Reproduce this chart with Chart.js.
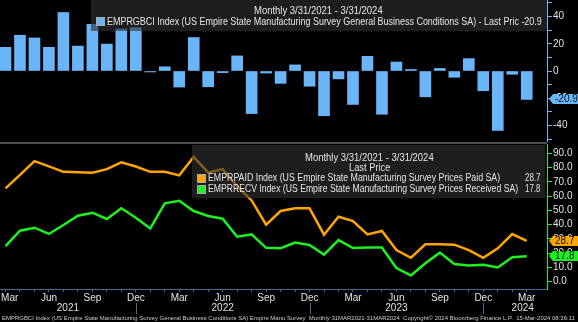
<!DOCTYPE html>
<html>
<head>
<meta charset="utf-8">
<script src="https://cdn.jsdelivr.net/npm/chart.js@4.4.1/dist/chart.umd.min.js"></script>
<style>
html,body{margin:0;padding:0;background:#000;}
#wrap{position:relative;width:578px;height:322px;overflow:hidden;background:#000;
  font-family:'Liberation Sans Narrow','Liberation Sans',Arial,sans-serif;color:#e4e4e4;}
canvas{position:absolute;left:0;}
#top{top:0;}
#bot{top:144px;}
.sep{position:absolute;left:0;top:142px;width:547px;height:2px;background:#4c4c4c;}
.box{position:absolute;background:rgba(48,48,48,0.62);}
.t{position:absolute;white-space:nowrap;font-size:10px;line-height:10px;transform-origin:0 50%;}
.sq{position:absolute;width:7px;height:7px;border:1px solid #aaa;}
#foot{position:absolute;left:2px;top:315px;font-size:6px;line-height:6px;white-space:nowrap;color:#cfcfcf;transform-origin:0 50%;}
</style>
</head>
<body>
<div id="wrap">
  <canvas id="top" width="578" height="142"></canvas>
  <div class="sep"></div>
  <canvas id="bot" width="578" height="178"></canvas>

  <div class="box" style="left:91px;top:0;width:456px;height:31px;">
    <div class="t" data-c="227" data-w="129" style="top:6px;">Monthly 3/31/2021 - 3/31/2024</div>
    <div class="sq" style="left:5px;top:17px;background:#6ab4f8;"></div>
    <div class="t" data-w="435" style="left:16px;top:17px;">EMPRGBCI Index (US Empire State Manufacturing Survey General Business Conditions SA) - Last Pric -20.9</div>
  </div>

  <div class="box" style="left:192px;top:145px;width:353px;height:53px;">
    <div class="t" data-c="177" data-w="129" style="top:8px;">Monthly 3/31/2021 - 3/31/2024</div>
    <div class="t" data-c="177" data-w="41" style="top:18px;">Last Price</div>
    <div class="sq" style="left:5px;top:29px;background:#ffa500;"></div>
    <div class="t" data-w="292" style="left:16px;top:28px;">EMPRPAID Index (US Empire State Manufacturing Survey Prices Paid SA)</div>
    <div class="t" data-r="348" data-w="15" style="top:28px;">28.7</div>
    <div class="sq" style="left:5px;top:40px;background:#1ff01f;"></div>
    <div class="t" data-w="310" style="left:16px;top:39px;">EMPRRECV Index (US Empire State Manufacturing Survey Prices Received SA)</div>
    <div class="t" data-r="348" data-w="15" style="top:39px;">17.8</div>
  </div>

  <div id="foot">EMPRGBCI Index (US Empire State Manufacturing Survey General Business Conditions SA) Empire Manu Survey&nbsp; Monthly 31MAR2021-31MAR2024&nbsp; Copyright© 2024 Bloomberg Finance L.P.&nbsp; 15-Mar-2024 08:36:11</div>
</div>
<script>
const FONT = "'Liberation Sans Narrow','Liberation Sans',Arial,sans-serif";
Chart.defaults.font.family = FONT;
Chart.defaults.font.size = 10;

// monthly dates, Mar 2021 .. Mar 2024
const months = ['Mar 2021','Apr 2021','May 2021','Jun 2021','Jul 2021','Aug 2021','Sep 2021','Oct 2021','Nov 2021','Dec 2021',
  'Jan 2022','Feb 2022','Mar 2022','Apr 2022','May 2022','Jun 2022','Jul 2022','Aug 2022','Sep 2022','Oct 2022','Nov 2022','Dec 2022',
  'Jan 2023','Feb 2023','Mar 2023','Apr 2023','May 2023','Jun 2023','Jul 2023','Aug 2023','Sep 2023','Oct 2023','Nov 2023','Dec 2023',
  'Jan 2024','Feb 2024','Mar 2024'];
const quarterLabels = ['Mar','Jun','Sep','Dec'];
const years = ['2021','2022','2023','2024'];

// right axis ticks
const gbciTicks = [-50, -40, -30, -20, -10, 0, 10, 20, 30, 40, 50];
const gbciLabels = [-40, -20, 0, 20, 40];
const priceTicks = [0, 10, 20, 30, 40, 50, 60, 70, 80, 90];

// EMPRGBCI - general business conditions
const gbci = [17.4, 26.3, 24.3, 17.4, 43.0, 18.3, 34.3, 19.8, 30.9, 31.9,
  -0.7, 3.1, -11.8, 24.6, -11.6, -1.2, 11.1, -31.3, -1.5, -9.1, 4.5, -11.2,
  -32.9, -5.8, -24.6, 10.8, -31.8, 6.6, 1.1, -19.0, 1.9, -4.6, 9.1, -14.5,
  -43.7, -2.4, -20.9];
// EMPRPAID - prices paid
const pricesPaid = [65.5, 75.0, 84.6, 80.9, 77.1, 76.8, 76.5, 79.0, 83.7, 80.8,
  77.1, 77.1, 74.6, 87.5, 76.5, 79.0, 67.0, 57.0, 40.0, 49.6, 51.5, 51.5,
  33.0, 45.6, 42.6, 33.2, 35.6, 22.2, 16.8, 26.2, 26.2, 26.0, 22.2, 16.8,
  23.4, 33.4, 28.7];
// EMPRRECV - prices received
const pricesReceived = [25.0, 35.8, 37.9, 33.5, 39.8, 46.3, 48.4, 44.0, 51.5, 44.9,
  37.4, 55.0, 56.8, 49.6, 46.1, 44.2, 31.6, 33.2, 23.8, 23.5, 27.5, 25.8,
  19.0, 29.2, 23.6, 24.0, 24.0, 9.6, 4.4, 12.9, 20.4, 12.4, 11.4, 11.9,
  10.0, 17.2, 17.8];

const BLUE = '#6ab4f8', ORANGE = '#ffa500', GREEN = '#1ff01f', AXIS = '#46698f', TXT = '#e2e2e2';
const XMIN = -0.38, XMAX = 37.4;

const pts = arr => arr.map((v, i) => ({x: i, y: v}));

// coloured tag with the last value at the right axis
const lastTag = {
  id: 'lastTag',
  afterDraw(chart, args, opts) {
    const ctx = chart.ctx, ys = chart.scales.y;
    const x0 = chart.chartArea.right + 1;
    opts.items.forEach(it => {
      const d = chart.data.datasets[it.ds].data;
      const v = d[d.length - 1].y;
      const py = Math.round(ys.getPixelForValue(v));
      ctx.save();
      ctx.fillStyle = it.color;
      ctx.beginPath();
      ctx.moveTo(x0 + 1, py);
      ctx.lineTo(x0 + 5, py - 5);
      ctx.lineTo(578, py - 5);
      ctx.lineTo(578, py + 5);
      ctx.lineTo(x0 + 5, py + 5);
      ctx.closePath();
      ctx.fill();
      ctx.fillStyle = '#111';
      ctx.font = '10px ' + FONT;
      ctx.textBaseline = 'middle';
      ctx.fillText(v.toFixed(1), x0 + 7, py + 0.5);
      ctx.restore();
    });
  }
};

// year row under the month labels
const yearRow = {
  id: 'yearRow',
  afterDraw(chart) {
    const ctx = chart.ctx, xs = chart.scales.x, a = chart.chartArea;
    const decs = [];
    months.forEach((m, i) => { if (m.startsWith('Dec')) decs.push(xs.getPixelForValue(i)); });
    ctx.save();
    ctx.strokeStyle = AXIS;
    ctx.lineWidth = 1;
    decs.forEach(px => {
      ctx.beginPath();
      ctx.moveTo(Math.round(px) + 0.5, 159);
      ctx.lineTo(Math.round(px) + 0.5, 170);
      ctx.stroke();
    });
    ctx.fillStyle = TXT;
    ctx.font = '10px ' + FONT;
    ctx.textAlign = 'center';
    ctx.textBaseline = 'middle';
    years.forEach((y, k) => {
      const l = k === 0 ? a.left : decs[k - 1];
      let cx = k < decs.length ? (l + decs[k]) / 2 : xs.getPixelForValue(months.length - 1) - 4;
      ctx.fillText(y, cx, 164);
    });
    ctx.restore();
  }
};

new Chart(document.getElementById('top'), {
  type: 'bar',
  data: {datasets: [{data: pts(gbci), backgroundColor: BLUE, barThickness: 11}]},
  options: {
    animation: false, responsive: false,
    layout: {padding: 0},
    plugins: {legend: {display: false}, tooltip: {enabled: false}, lastTag: {items: [{ds: 0, color: BLUE}]}},
    scales: {
      x: {type: 'linear', min: XMIN, max: XMAX, offset: false, display: false},
      y: {
        position: 'right', min: -52.2, max: 52.2,
        afterBuildTicks(s) { s.ticks = gbciTicks.map(v => ({value: v})); },
        afterFit(s) { s.width = 31; s.paddingTop = 0; s.paddingBottom = 0; },
        ticks: {autoSkip: false, color: TXT, padding: 1,
          callback: v => gbciLabels.includes(Math.round(v)) ? String(Math.round(v)) : ''},
        grid: {drawOnChartArea: false, color: BLUE, tickLength: 5},
        border: {color: BLUE}
      }
    }
  },
  plugins: [lastTag]
});

new Chart(document.getElementById('bot'), {
  type: 'line',
  data: {datasets: [
    {data: pts(pricesPaid), borderColor: ORANGE, borderWidth: 2.5, pointRadius: 0, tension: 0},
    {data: pts(pricesReceived), borderColor: GREEN, borderWidth: 2.5, pointRadius: 0, tension: 0}
  ]},
  options: {
    animation: false, responsive: false,
    layout: {padding: 0},
    plugins: {legend: {display: false}, tooltip: {enabled: false},
      lastTag: {items: [{ds: 0, color: ORANGE}, {ds: 1, color: GREEN}]}},
    scales: {
      x: {
        type: 'linear', min: XMIN, max: XMAX, offset: false,
        afterBuildTicks(s) { s.ticks = months.map((m, i) => ({value: i})); },
        afterFit(s) { s.height = 33; s.paddingLeft = 0; s.paddingRight = 0; },
        ticks: {autoSkip: false, maxRotation: 0, color: TXT, padding: 0,
          callback: v => {
            const m = months[v].split(' ')[0];
            if (!quarterLabels.includes(m)) return '';
            return v === 0 ? '   ' + m : m;  // first label sits a little right, as in the original
          }},
        grid: {drawOnChartArea: false, color: AXIS, tickLength: 3},
        border: {color: AXIS}
      },
      y: {
        position: 'right', min: -5.1, max: 96.6,
        afterBuildTicks(s) { s.ticks = priceTicks.map(v => ({value: v})); },
        afterFit(s) { s.width = 31; s.paddingTop = 0; s.paddingBottom = 0; },
        ticks: {autoSkip: false, color: TXT, padding: 1, callback: v => v.toFixed(1)},
        grid: {drawOnChartArea: false, color: GREEN, tickLength: 5},
        border: {color: GREEN}
      }
    }
  },
  plugins: [lastTag, yearRow]
});

// fit legend / footer text to the measured widths of the reference
document.querySelectorAll('.t').forEach(el => {
  const w = el.offsetWidth;
  const tw = el.dataset.w ? +el.dataset.w : w;
  if (el.dataset.w) el.style.transform = 'scaleX(' + (tw / w) + ')';
  if (el.dataset.c) el.style.left = (el.dataset.c - tw / 2) + 'px';
  if (el.dataset.r) el.style.left = (el.dataset.r - tw) + 'px';
});
const foot = document.getElementById('foot');
foot.style.transform = 'scaleX(' + (573 / foot.offsetWidth) + ')';
</script>
</body>
</html>
